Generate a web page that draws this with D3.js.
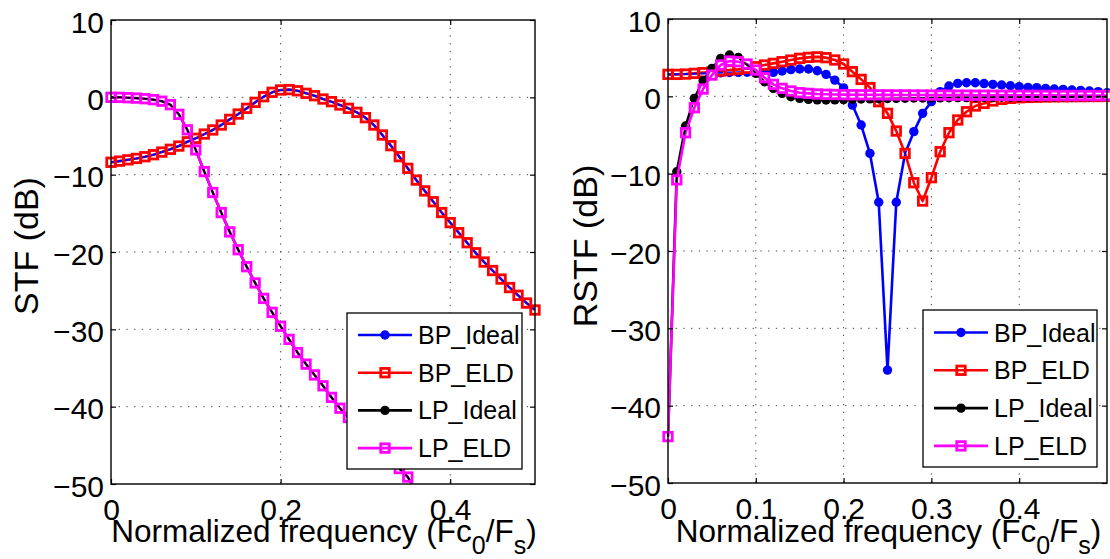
<!DOCTYPE html>
<html><head><meta charset="utf-8">
<script src="https://cdn.jsdelivr.net/npm/d3@7"></script>
<style>
body{margin:0;background:#fff}
svg text{font-family:"Liberation Sans",Arial,Helvetica,sans-serif;fill:#000}
</style>
</head><body>
<svg id="chart" width="1110" height="559"></svg>
<script>
// ---- data ----
const freq = [0,0.01,0.02,0.03,0.04,0.05,0.06,0.07,0.08,0.09,0.1,0.11,0.12,0.13,0.14,0.15,0.16,0.17,0.18,0.19,0.2,0.21,0.22,0.23,0.24,0.25,0.26,0.27,0.28,0.29,0.3,0.31,0.32,0.33,0.34,0.35,0.36,0.37,0.38,0.39,0.4,0.41,0.42,0.43,0.44,0.45,0.46,0.47,0.48,0.49,0.5];

const seriesNames = ["BP_Ideal","BP_ELD","LP_Ideal","LP_ELD"];

// left panel: STF (dB)
const stfBpIdeal = [-8.4,-8.25,-8.08,-7.9,-7.68,-7.42,-7.08,-6.72,-6.3,-5.75,-5.3,-4.75,-4.22,-3.58,-2.85,-2.16,-1.42,-0.65,0.08,0.65,0.95,1.0,0.85,0.52,0.21,-0.22,-0.56,-0.99,-1.42,-1.94,-2.63,-3.58,-4.87,-6.25,-7.67,-9.18,-10.7,-12.1,-13.5,-14.9,-16.2,-17.5,-18.8,-20.1,-21.3,-22.4,-23.5,-24.6,-25.6,-26.6,-27.5];
const stfBpEld   = [-8.4,-8.25,-8.08,-7.9,-7.68,-7.42,-7.08,-6.72,-6.3,-5.75,-5.3,-4.75,-4.22,-3.58,-2.85,-2.16,-1.42,-0.65,0.08,0.65,0.95,1.0,0.85,0.52,0.21,-0.22,-0.56,-0.99,-1.42,-1.94,-2.63,-3.58,-4.87,-6.25,-7.67,-9.18,-10.7,-12.1,-13.5,-14.9,-16.2,-17.5,-18.8,-20.1,-21.3,-22.4,-23.5,-24.6,-25.6,-26.6,-27.5];
const stfLpIdeal = [0,0,-0.05,-0.1,-0.18,-0.3,-0.5,-0.95,-2.2,-4.2,-6.8,-9.6,-12.3,-14.9,-17.4,-19.7,-21.9,-24.0,-26.0,-27.8,-29.6,-31.3,-33.0,-34.5,-35.9,-37.3,-38.8,-40.2,-41.4,-42.6,-43.8,-44.9,-46.0,-47.0,-48.0,-49.1,-51.0,-52.0];
const stfLpEld   = [0,0,-0.05,-0.1,-0.18,-0.3,-0.5,-0.95,-2.2,-4.2,-6.8,-9.6,-12.3,-14.9,-17.4,-19.7,-21.9,-24.0,-26.0,-27.8,-29.6,-31.3,-33.0,-34.5,-35.9,-37.3,-38.8,-40.2,-41.4,-42.6,-43.8,-44.9,-46.0,-47.0,-48.0,-49.1,-51.0,-52.0];

// right panel: RSTF (dB)
const rstfBpIdeal = [2.84,2.85,2.88,2.92,2.96,3.0,3.04,3.08,3.1,3.12,3.1,3.08,3.1,3.27,3.45,3.53,3.53,3.31,2.84,2.1,1.1,-1.13,-3.71,-7.38,-13.7,-35.4,-13.7,-7.38,-4.57,-2.2,-0.69,0.6,1.33,1.68,1.76,1.76,1.65,1.55,1.46,1.37,1.25,1.16,1.12,1.03,0.94,0.9,0.81,0.77,0.69,0.6,0.47];
const rstfBpEld   = [2.84,2.84,2.88,2.97,3.06,3.14,3.27,3.4,3.49,3.62,3.83,4.05,4.26,4.48,4.69,4.91,5.04,5.1,5.0,4.7,4.18,3.19,2.19,1.12,-0.69,-2.2,-4.49,-7.38,-11.17,-13.54,-10.52,-7.16,-4.7,-3.06,-1.99,-1.25,-0.91,-0.6,-0.39,-0.26,-0.18,-0.14,-0.11,-0.08,-0.06,-0.05,-0.04,-0.03,-0.02,-0.02,-0.01];
const rstfLpIdeal = [-44,-9.75,-3.84,-0.26,2.02,3.62,4.91,5.34,5.04,4.05,2.97,1.89,1.03,0.38,-0.05,-0.26,-0.39,-0.45,-0.48,-0.46,-0.42,-0.38,-0.35,-0.32,-0.3,-0.28,-0.26,-0.24,-0.22,-0.21,-0.2,-0.19,-0.18,-0.17,-0.16,-0.15,-0.14,-0.13,-0.12,-0.12,-0.11,-0.1,-0.1,-0.09,-0.09,-0.08,-0.08,-0.07,-0.07,-0.06,-0.06];
const rstfLpEld   = [-44,-10.8,-4.7,-1.47,0.94,2.75,4.05,4.56,4.48,4.18,3.4,2.41,1.55,1.03,0.69,0.47,0.38,0.3,0.26,0.24,0.22,0.21,0.2,0.2,0.19,0.19,0.18,0.18,0.17,0.17,0.16,0.16,0.15,0.15,0.15,0.14,0.14,0.14,0.13,0.13,0.13,0.12,0.12,0.12,0.12,0.11,0.11,0.11,0.11,0.1,0.1];

const yTicks = [-50,-40,-30,-20,-10,0,10];
const xTicksLeft = [0,0.2,0.4];
const xTicksRight = [0,0.1,0.2,0.3,0.4];

// ---- drawing ----
const svg = d3.select("#chart");
const colors = {BP_Ideal:"#0000ff", BP_ELD:"#ff0000", LP_Ideal:"#000000", LP_ELD:"#ff00ff"};
const LW = 2.6, DOT_R = 4.7, SQ = 8.5, SQ_W = 2.8;
const fmt = d => d3.format("~g")(d);
let clipCount = 0;

function panel(cfg) {
  const x = d3.scaleLinear().domain([0, 0.5]).range([cfg.x0, cfg.x1]);
  const y = d3.scaleLinear().domain([-50, 10]).range([cfg.y1, cfg.y0]);
  const g = svg.append("g");
  const defs = g.append("defs");

  defs.append("clipPath").attr("id", cfg.id + "clip")
    .append("rect").attr("x", cfg.x0).attr("y", cfg.y0)
    .attr("width", cfg.x1 - cfg.x0).attr("height", cfg.y1 - cfg.y0);

  // grid
  const grid = g.append("g").attr("stroke", "#444").attr("stroke-width", 1)
    .attr("stroke-dasharray", "1.3,6.4");
  grid.selectAll(".gx").data(cfg.xTicks.filter(t => t > 0)).join("line")
    .attr("x1", d => x(d)).attr("x2", d => x(d)).attr("y1", cfg.y0).attr("y2", cfg.y1);
  grid.selectAll(".gy").data(yTicks.filter(t => t > -50 && t < 10)).join("line")
    .attr("y1", d => y(d)).attr("y2", d => y(d)).attr("x1", cfg.x0).attr("x2", cfg.x1);

  const lineGen = d3.line().x((d, i) => x(freq[i])).y(d => y(d));
  const inDom = d => d >= -50 && d <= 10;

  function pair(ideal, eld, cI, cE) {
    const pts = arr => arr.map((v, i) => ({x: freq[i], v})).filter(p => inDom(p.v));
    const eldPts = pts(eld);
    // clip = interiors of the ELD squares
    const cid = "sq" + (clipCount++);
    const inner = SQ - SQ_W;
    defs.append("clipPath").attr("id", cid).selectAll("rect").data(eldPts).join("rect")
      .attr("x", p => x(p.x) - inner / 2).attr("y", p => y(p.v) - inner / 2)
      .attr("width", inner).attr("height", inner);

    // ideal line and dots
    g.append("path").datum(ideal).attr("d", lineGen).attr("fill", "none")
      .attr("stroke", cI).attr("stroke-width", LW).attr("stroke-linejoin", "round")
      .attr("clip-path", `url(#${cfg.id}clip)`);
    g.append("g").selectAll("circle").data(pts(ideal)).join("circle")
      .attr("cx", p => x(p.x)).attr("cy", p => y(p.v)).attr("r", DOT_R).attr("fill", cI);
    // eld square interiors (background)
    g.append("g").selectAll("rect").data(eldPts).join("rect")
      .attr("x", p => x(p.x) - SQ / 2).attr("y", p => y(p.v) - SQ / 2)
      .attr("width", SQ).attr("height", SQ).attr("fill", "#fff");
    // eld line
    g.append("path").datum(eld).attr("d", lineGen).attr("fill", "none")
      .attr("stroke", cE).attr("stroke-width", LW).attr("stroke-linejoin", "round")
      .attr("clip-path", `url(#${cfg.id}clip)`);
    // ideal line seen through the square interiors
    g.append("g").attr("clip-path", `url(#${cid})`)
      .append("path").datum(ideal).attr("d", lineGen).attr("fill", "none")
      .attr("stroke", cI).attr("stroke-width", LW * 0.8).attr("stroke-linejoin", "round");
    // eld square outlines
    g.append("g").selectAll("rect").data(eldPts).join("rect")
      .attr("x", p => x(p.x) - SQ / 2).attr("y", p => y(p.v) - SQ / 2)
      .attr("width", SQ).attr("height", SQ).attr("fill", "none")
      .attr("stroke", cE).attr("stroke-width", SQ_W);
  }
  pair(cfg.bpIdeal, cfg.bpEld, colors.BP_Ideal, colors.BP_ELD);
  pair(cfg.lpIdeal, cfg.lpEld, colors.LP_Ideal, colors.LP_ELD);

  // axes with inward ticks
  const fs = 30;
  const ax = g.append("g").attr("transform", `translate(0,${cfg.y1})`)
    .call(d3.axisBottom(x).tickValues(cfg.xTicks).tickFormat(fmt).tickSize(-5).tickPadding(15));
  ax.selectAll("text").attr("font-size", fs);
  const ay = g.append("g").attr("transform", `translate(${cfg.x0},0)`)
    .call(d3.axisLeft(y).tickValues(yTicks).tickFormat(fmt).tickSize(-5).tickPadding(7));
  ay.selectAll("text").attr("font-size", fs).attr("dy", "0.4em");
  g.append("g").attr("transform", `translate(0,${cfg.y0})`)
    .call(d3.axisTop(x).tickValues(cfg.xTicks).tickFormat("").tickSize(-5));
  g.append("g").attr("transform", `translate(${cfg.x1},0)`)
    .call(d3.axisRight(y).tickValues(yTicks).tickFormat("").tickSize(-5));
  g.selectAll(".domain").remove();
  g.selectAll(".tick line").attr("stroke", "#000").attr("stroke-width", 1.2);
  g.selectAll(".tick text").attr("font-family", "Liberation Sans, Arial, sans-serif").attr("fill", "#000");

  // box
  g.append("rect").attr("x", cfg.x0).attr("y", cfg.y0)
    .attr("width", cfg.x1 - cfg.x0).attr("height", cfg.y1 - cfg.y0)
    .attr("fill", "none").attr("stroke", "#000").attr("stroke-width", 1.4);

  // x label
  const xl = g.append("text").attr("x", (cfg.x0 + cfg.x1) / 2 + 1).attr("y", 542)
    .attr("text-anchor", "middle").attr("font-size", 31.5);
  xl.append("tspan").text("Normalized frequency (Fc");
  xl.append("tspan").attr("dy", 12).attr("font-size", 25).text("0");
  xl.append("tspan").attr("dy", -12).text("/F");
  xl.append("tspan").attr("dy", 12).attr("font-size", 25).text("s");
  xl.append("tspan").attr("dy", -12).text(")");

  // y label
  g.append("text").attr("transform", `translate(${cfg.ylx},246) rotate(-90)`)
    .attr("text-anchor", "middle").attr("font-size", 34).text(cfg.ylabel);

  // legend
  const L = cfg.legend;
  const lg = g.append("g");
  lg.append("rect").attr("x", L.x0).attr("y", L.y0).attr("width", L.x1 - L.x0).attr("height", L.y1 - L.y0)
    .attr("fill", "#fff").attr("stroke", "#000").attr("stroke-width", 1.3);
  seriesNames.forEach((name, i) => {
    const cy = L.row0 + i * L.step;
    const c = colors[name];
    lg.append("line").attr("x1", L.lx0).attr("x2", L.lx1).attr("y1", cy).attr("y2", cy)
      .attr("stroke", c).attr("stroke-width", LW);
    const cx = (L.lx0 + L.lx1) / 2;
    if (name.endsWith("Ideal")) {
      lg.append("circle").attr("cx", cx).attr("cy", cy).attr("r", DOT_R).attr("fill", c);
    } else {
      lg.append("rect").attr("x", cx - SQ / 2).attr("y", cy - SQ / 2).attr("width", SQ).attr("height", SQ)
        .attr("fill", "none").attr("stroke", c).attr("stroke-width", SQ_W);
    }
    lg.append("text").attr("x", L.tx).attr("y", cy + 9).attr("font-size", 25).text(name);
  });
}

panel({
  id: "L", x0: 111, x1: 535, y0: 20, y1: 484, xTicks: xTicksLeft,
  bpIdeal: stfBpIdeal, bpEld: stfBpEld, lpIdeal: stfLpIdeal, lpEld: stfLpEld,
  ylabel: "STF (dB)", ylx: 38,
  legend: {x0: 347, x1: 522, y0: 313, y1: 469, row0: 335, step: 37.7, lx0: 358, lx1: 412, tx: 418}
});
panel({
  id: "R", x0: 668, x1: 1107, y0: 19, y1: 483, xTicks: xTicksRight,
  bpIdeal: rstfBpIdeal, bpEld: rstfBpEld, lpIdeal: rstfLpIdeal, lpEld: rstfLpEld,
  ylabel: "RSTF (dB)", ylx: 597,
  legend: {x0: 923, x1: 1097, y0: 310, y1: 467, row0: 332.5, step: 37.8, lx0: 934, lx1: 988, tx: 994}
});
</script>
</body></html>
